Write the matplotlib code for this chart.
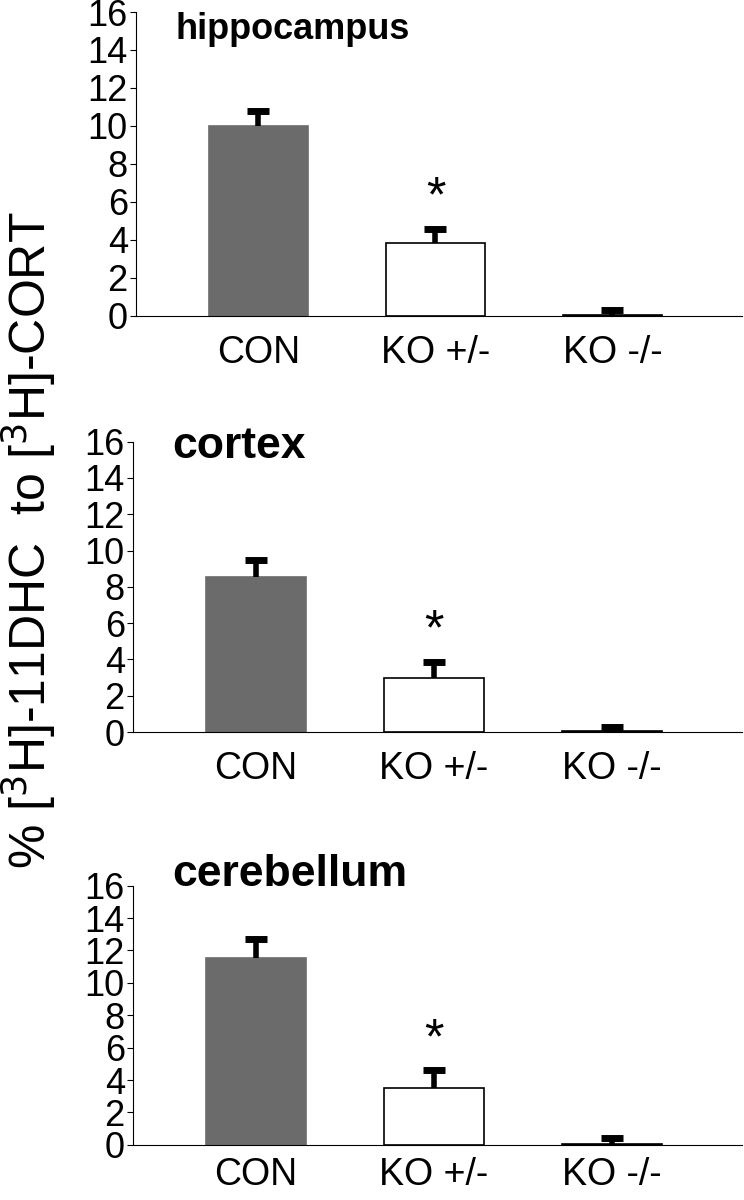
import numpy as np
import matplotlib.pyplot as plt

plt.rcParams['font.family'] = ['Liberation Sans', 'DejaVu Sans']

groups = ["CON", "KO +/-", "KO -/-"]
regions = ["hippocampus", "cortex", "cerebellum"]
means = {
    "hippocampus": [10.0, 3.8, 0.05],
    "cortex": [8.55, 2.95, 0.05],
    "cerebellum": [11.5, 3.5, 0.05],
}
errors = {
    "hippocampus": [0.8, 0.75, 0.25],
    "cortex": [0.9, 0.9, 0.25],
    "cerebellum": [1.2, 1.1, 0.4],
}
significant = [False, True, False]
yticks = [0, 2, 4, 6, 8, 10, 12, 14, 16]
bar_colors = ["#6b6b6b", "white", "white"]
edge_colors = ["#6b6b6b", "black", "black"]

# axes boxes in figure fraction (left, bottom, width, height)
boxes = [
    [0.183, 0.737, 0.814, 0.253],
    [0.179, 0.390, 0.818, 0.242],
    [0.179, 0.046, 0.818, 0.216],
]
# title baseline (data units), title size and x label pad per panel
title_y = [14.6, 15.1, 16.0]
title_size = [26, 32, 32]
xpad = [14, 14, 9]

fig = plt.figure(figsize=(7.44, 12), dpi=100)
x = np.arange(len(groups))

for region, box, ty, ts, xp in zip(regions, boxes, title_y, title_size, xpad):
    ax = fig.add_axes(box)
    vals = means[region]
    errs = errors[region]
    ax.bar(x, vals, width=0.56, color=bar_colors, edgecolor=edge_colors,
           linewidth=1.2, zorder=2)
    # one-sided error bars: stem + thick cap
    for xi, v, e in zip(x, vals, errs):
        ax.plot([xi, xi], [v, v + e], color="black", lw=4,
                solid_capstyle="butt", zorder=3)
        ax.plot([xi], [v + e], marker="_", ms=16, mew=5, color="black", zorder=3)
    for xi, v, e, s in zip(x, vals, errs, significant):
        if s:
            ax.text(xi, v + e + 0.4, "*", ha="center", va="bottom", fontsize=36)
    ax.set_xlim(-0.69, 2.73)
    ax.set_ylim(0, 16)
    ax.set_yticks(yticks)
    ax.set_xticks(x)
    ax.set_xticklabels(groups)
    ax.tick_params(axis="y", direction="out", length=4, width=0.8, labelsize=26, pad=2)
    ax.tick_params(axis="x", length=0, labelsize=27, pad=xp)
    for sp in ["top", "right"]:
        ax.spines[sp].set_visible(False)
    ax.spines["left"].set_linewidth(0.8)
    ax.spines["bottom"].set_linewidth(0.8)
    ax.text(-0.47, ty, region, fontsize=ts, fontweight="bold",
            ha="left", va="baseline", clip_on=False)

fig.text(0.038, 0.55, "% [$^3$H]-11DHC  to [$^3$H]-CORT", rotation=90,
         fontsize=36, ha="center", va="center")

fig.savefig("out.png", dpi=100)
